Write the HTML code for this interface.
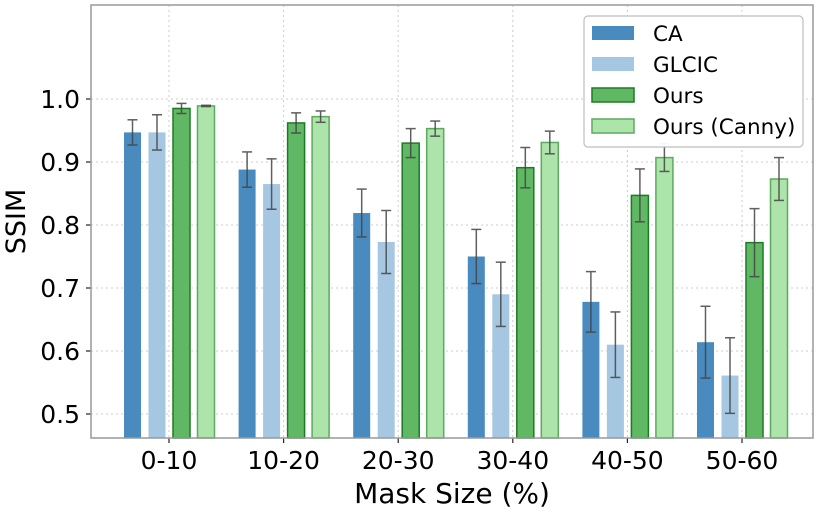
<!DOCTYPE html>
<html><head><meta charset="utf-8"><style>
body{margin:0;background:#fff;}
svg text{font-family:"DejaVu Sans","Liberation Sans",sans-serif;}
</style></head><body>
<svg id="chart" width="830" height="510" xmlns="http://www.w3.org/2000/svg">
<g id="grid"></g>
<g id="bars"></g>
<g id="axes"></g>
<g id="legend"></g>
</svg>
<script>
const categories=["0-10","10-20","20-30","30-40","40-50","50-60"];
const seriesNames=["CA","GLCIC","Ours","Ours (Canny)"];
const caVals=[0.947,0.888,0.819,0.750,0.678,0.614];
const caErr=[0.020,0.028,0.038,0.043,0.048,0.057];
const glcicVals=[0.947,0.865,0.773,0.690,0.610,0.561];
const glcicErr=[0.028,0.040,0.050,0.051,0.052,0.060];
const oursVals=[0.985,0.962,0.930,0.891,0.847,0.772];
const oursErr=[0.008,0.016,0.023,0.032,0.042,0.054];
const cannyVals=[0.989,0.972,0.953,0.931,0.907,0.873];
const cannyErr=[0.001,0.009,0.012,0.018,0.022,0.034];
const yTicks=[0.5,0.6,0.7,0.8,0.9,1.0];

const NS="http://www.w3.org/2000/svg";
const L=91,R=813,T=5,B=438;
function y(v){return 414-(v-0.5)*630;}
function gx(i){return 169+i*114.6;}
function mk(tag,attrs,parent){const e=document.createElementNS(NS,tag);for(const k in attrs)e.setAttribute(k,attrs[k]);parent.appendChild(e);return e;}
const grid=document.getElementById('grid'),bars=document.getElementById('bars'),axes=document.getElementById('axes'),leg=document.getElementById('legend');
yTicks.forEach(t=>{
  const l=mk('line',{x1:L,x2:R,y1:y(t),y2:y(t),stroke:'#ccc','stroke-dasharray':'2,3'},grid);
  
  
  const tk=mk('line',{x1:L-5,x2:L,y1:y(t),y2:y(t),stroke:'#222','stroke-width':1.2},axes);
  
  
  const tx=mk('text',{x:L-11,y:y(t)+9,'text-anchor':'end','font-size':25,fill:'#000'},axes);
  tx.textContent=t.toFixed(1);
  
  
});
categories.forEach((c,i)=>{
  const l=mk('line',{x1:gx(i),x2:gx(i),y1:T,y2:B,stroke:'#ccc','stroke-dasharray':'2,3'},grid);
  
  
  const tk=mk('line',{x1:gx(i),x2:gx(i),y1:B,y2:B+5,stroke:'#222','stroke-width':1.2},axes);
  
  
  const tx=mk('text',{x:gx(i),y:469,'text-anchor':'middle','font-size':25,fill:'#000'},axes);
  tx.textContent=c;
  
  
});
const series=[
 {v:caVals,e:caErr,fill:'#4a8bbf',stroke:'none',n:'ca'},
 {v:glcicVals,e:glcicErr,fill:'#a6c7e2',stroke:'none',n:'glcic'},
 {v:oursVals,e:oursErr,fill:'#60b864',stroke:'#1d7a24',n:'ours'},
 {v:cannyVals,e:cannyErr,fill:'#ace4aa',stroke:'#5ea862',n:'ours-canny'}];
const offs=[-45,-20.5,4,28.5],W=17;
series.forEach((s,si)=>{
  s.v.forEach((v,i)=>{
    const cx=gx(i)+offs[si]+W/2;
    const r=mk('rect',{x:cx-W/2,y:y(v),width:W,height:B-y(v),fill:s.fill,stroke:s.stroke,'stroke-width':1.5},bars);
    
    
    const e=s.e[i],y1=y(v+e),y2=y(v-e);
    const g=mk('g',{stroke:'#444','stroke-width':1.5,opacity:0.85},bars);
    
    
    mk('line',{x1:cx,x2:cx,y1:y1,y2:y2},g);
    mk('line',{x1:cx-5,x2:cx+5,y1:y1,y2:y1},g);
    mk('line',{x1:cx-5,x2:cx+5,y1:y2,y2:y2},g);
  });
});
const fr=mk('rect',{x:L,y:T,width:R-L,height:B-T,fill:'none',stroke:'#999','stroke-width':1.5},axes);


const yl=mk('text',{x:0,y:0,transform:'translate(25,'+((T+B)/2)+') rotate(-90)','text-anchor':'middle','font-size':27},axes);
yl.textContent='SSIM';


const xl=mk('text',{x:(L+R)/2,y:503,'text-anchor':'middle','font-size':28},axes);
xl.textContent='Mask Size (%)';


const lb=mk('rect',{x:584,y:16,width:219,height:131,rx:4,fill:'#fff',stroke:'#bbb','stroke-width':1.2,opacity:0.95},leg);


seriesNames.forEach((n,i)=>{
  const yy=33+i*31;
  const g=mk('g',{},leg);
  
  
  mk('rect',{x:592,y:yy-7,width:42,height:14,fill:series[i].fill,stroke:series[i].stroke,'stroke-width':1.5},g);
  const t=mk('text',{x:653,y:yy+8,'font-size':21.5},g);
  t.textContent=n;
});
</script>
</body></html>
